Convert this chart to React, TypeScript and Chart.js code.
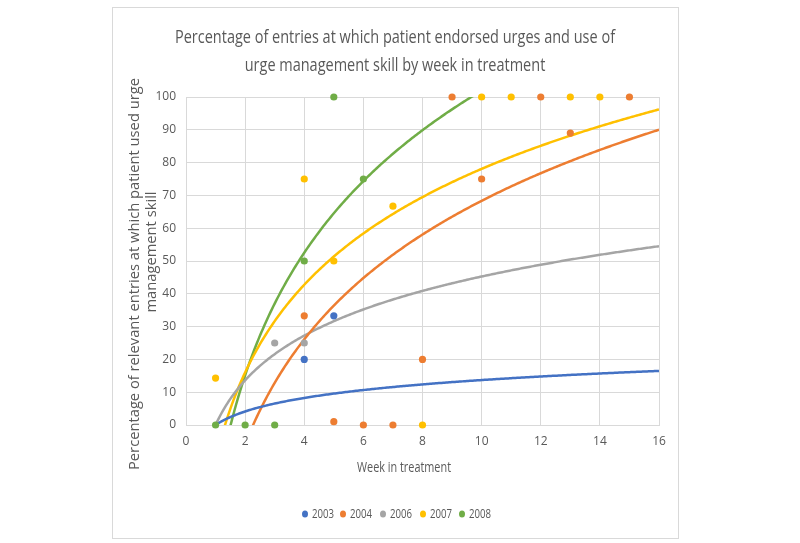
import React, { useEffect, useRef } from "react";
import { Chart, registerables } from "chart.js";

Chart.register(...registerables);

// ---- Data ----
const seriesNames = ["2003", "2004", "2006", "2007", "2008"];
const seriesColors = ["#4472C4", "#ED7D31", "#A5A5A5", "#FFC000", "#70AD47"];

const weeks2003 = [4, 5];
const pct2003 = [20, 33.3];
const weeks2004 = [4, 5, 6, 7, 8, 9, 10, 12, 13, 15];
const pct2004 = [33.3, 1, 0, 0, 20, 100, 75, 100, 89, 100];
const weeks2006 = [3, 4];
const pct2006 = [25, 25];
const weeks2007 = [1, 4, 5, 7, 8, 10, 11, 13, 14];
const pct2007 = [14.3, 75, 50, 66.7, 0, 100, 100, 100, 100];
const weeks2008 = [1, 2, 3, 4, 5, 6];
const pct2008 = [0, 0, 0, 50, 100, 75];

// Logarithmic trendlines y = a*ln(x) + b
const trendA = [5.95, 46.1, 19.66, 38.56, 53.9];
const trendB = [0, -37.8, 0, -10.7, -22.2];
const trendRange = [1, 16];

const xTicksMin = 0;
const xTicksMax = 16;
const yTicksMin = 0;
const yTicksMax = 100;

const titleLines = [
  "Percentage of entries at which patient endorsed urges and use of",
  "urge management skill by week in treatment",
];
const yTitleLines = [
  "Percentage of relevant entries at which patient used urge",
  "management skill",
];
const xTitle = "Week in treatment";

const allWeeks = [weeks2003, weeks2004, weeks2006, weeks2007, weeks2008];
const allPct = [pct2003, pct2004, pct2006, pct2007, pct2008];

const FONT = "'Open Sans', 'Noto Sans', sans-serif";
const TEXT = "#595959";

function drawScaled(
  ctx: CanvasRenderingContext2D,
  text: string,
  cx: number,
  cy: number,
  size: number,
  s: number
) {
  ctx.save();
  ctx.font = `${size}px ${FONT}`;
  ctx.translate(cx, cy);
  ctx.scale(s, 1);
  ctx.textAlign = "center";
  ctx.textBaseline = "middle";
  ctx.fillText(text, 0, 0);
  ctx.restore();
}

function fitScale(ctx: CanvasRenderingContext2D, text: string, size: number, width: number) {
  ctx.save();
  ctx.font = `${size}px ${FONT}`;
  const w = ctx.measureText(text).width;
  ctx.restore();
  return width / w;
}

const decor = {
  id: "decor",
  beforeDraw(chart: any) {
    const ctx = chart.ctx as CanvasRenderingContext2D;
    ctx.save();
    ctx.fillStyle = "#ffffff";
    ctx.fillRect(0, 0, chart.width, chart.height);
    ctx.strokeStyle = "#d9d9d9";
    ctx.lineWidth = 1;
    ctx.strokeRect(112.5, 7.5, 566, 531);
    ctx.restore();
  },
  afterDraw(chart: any) {
    const ctx = chart.ctx as CanvasRenderingContext2D;
    ctx.save();
    ctx.fillStyle = TEXT;
    // title
    const ts = fitScale(ctx, titleLines[0], 19, 440);
    drawScaled(ctx, titleLines[0], 395, 38, 19, ts);
    drawScaled(ctx, titleLines[1], 395, 66, 19, ts);
    // x title
    drawScaled(ctx, xTitle, 404, 468, 14, fitScale(ctx, xTitle, 14, 94));
    // y title (rotated)
    const ys = fitScale(ctx, yTitleLines[0], 14.5, 392);
    ctx.save();
    ctx.translate(135, 274);
    ctx.rotate(-Math.PI / 2);
    drawScaled(ctx, yTitleLines[0], 0, 0, 14.5, ys);
    ctx.restore();
    ctx.save();
    ctx.translate(152, 252);
    ctx.rotate(-Math.PI / 2);
    drawScaled(ctx, yTitleLines[1], 0, 0, 14.5, ys);
    ctx.restore();
    // legend
    const lx = [305, 343, 383, 423, 462];
    const ly = 514;
    for (let i = 0; i < seriesNames.length; i++) {
      ctx.fillStyle = seriesColors[i];
      ctx.beginPath();
      ctx.ellipse(lx[i], ly, 3, 3.6, 0, 0, Math.PI * 2);
      ctx.fill();
      ctx.fillStyle = TEXT;
      ctx.save();
      ctx.font = `13px ${FONT}`;
      const w = ctx.measureText(seriesNames[i]).width;
      ctx.translate(lx[i] + 7, ly);
      ctx.scale(22 / w, 1);
      ctx.textAlign = "left";
      ctx.textBaseline = "middle";
      ctx.fillText(seriesNames[i], 0, 0);
      ctx.restore();
    }
    ctx.restore();
  },
};

export default function App() {
  const ref = useRef<HTMLCanvasElement>(null);
  useEffect(() => {
    if (!ref.current) return;
    const datasets: any[] = [];
    for (let i = 0; i < seriesNames.length; i++) {
      datasets.push({
        type: "scatter",
        label: seriesNames[i],
        data: allWeeks[i].map((w, j) => ({ x: w, y: allPct[i][j] })),
        backgroundColor: seriesColors[i],
        borderColor: seriesColors[i],
        pointRadius: 3.6,
        pointBorderWidth: 0,
        clip: false,
        order: 0,
      });
    }
    for (let i = 0; i < seriesNames.length; i++) {
      const pts: { x: number; y: number }[] = [];
      for (let x = trendRange[0]; x <= trendRange[1] + 1e-9; x += 0.05) {
        pts.push({ x, y: trendA[i] * Math.log(x) + trendB[i] });
      }
      datasets.push({
        type: "line",
        label: seriesNames[i] + " trend",
        data: pts,
        borderColor: seriesColors[i],
        borderWidth: 2.5,
        pointRadius: 0,
        fill: false,
        tension: 0,
        order: 1,
      });
    }
    const chart = new Chart(ref.current, {
      type: "scatter",
      data: { datasets },
      options: {
        animation: false,
        responsive: false,
        devicePixelRatio: 1,
        layout: { padding: { top: 97, right: 141, bottom: 0, left: 0 } },
        plugins: { legend: { display: false }, tooltip: { enabled: false } },
        scales: {
          x: {
            type: "linear",
            min: xTicksMin,
            max: xTicksMax,
            ticks: {
              stepSize: 2,
              color: TEXT,
              font: { family: FONT, size: 12 },
              padding: 9,
              maxRotation: 0,
            },
            grid: { color: "#d9d9d9", drawTicks: false },
            border: { color: "#d9d9d9" },
            afterFit: (s: any) => {
              s.height = 118;
            },
          },
          y: {
            type: "linear",
            min: yTicksMin,
            max: yTicksMax,
            ticks: {
              stepSize: 10,
              color: TEXT,
              font: { family: FONT, size: 12 },
              padding: 10,
            },
            grid: { color: "#d9d9d9", drawTicks: false },
            border: { color: "#d9d9d9" },
            afterFit: (s: any) => {
              s.width = 186;
            },
          },
        },
      },
      plugins: [decor],
    } as any);
    return () => chart.destroy();
  }, []);
  return (
    <div style={{ position: "absolute", left: 0, top: 0, width: 800, height: 543 }}>
      <canvas ref={ref} width={800} height={543} style={{ display: "block" }} />
    </div>
  );
}
